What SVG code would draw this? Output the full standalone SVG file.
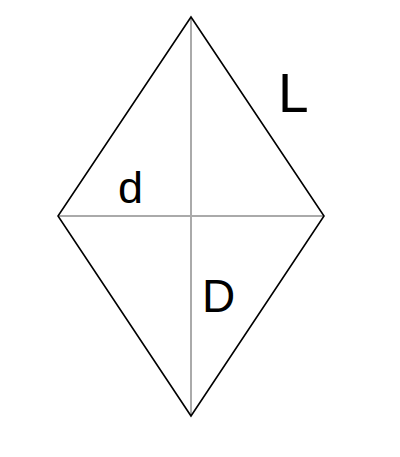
<svg xmlns="http://www.w3.org/2000/svg" width="400" height="457" viewBox="0 0 400 457">
<style>
.diag{stroke:#aaaaaa;stroke-width:2;fill:none}
.edge{stroke:#000;stroke-width:1.6;fill:none;stroke-linejoin:miter}
.lbl{font-family:"Liberation Sans",Arial,sans-serif;fill:#000}
</style>
<rect width="400" height="457" fill="#fff"/>
<g id="connectors">
<line class="diag" x1="191" y1="17" x2="191" y2="416"/>
<line class="diag" x1="58" y1="216" x2="324" y2="216"/>
</g>
<g id="rhombus">
<polygon class="edge" points="191,17 324,216 191,416 58,216"/>
</g>
<g id="label-L"><text class="lbl" x="278" y="112" font-size="55">L</text></g>
<g id="label-d"><text class="lbl" x="118" y="203" font-size="45">d</text></g>
<g id="label-D"><text class="lbl" x="202" y="312" font-size="46">D</text></g>
</svg>
